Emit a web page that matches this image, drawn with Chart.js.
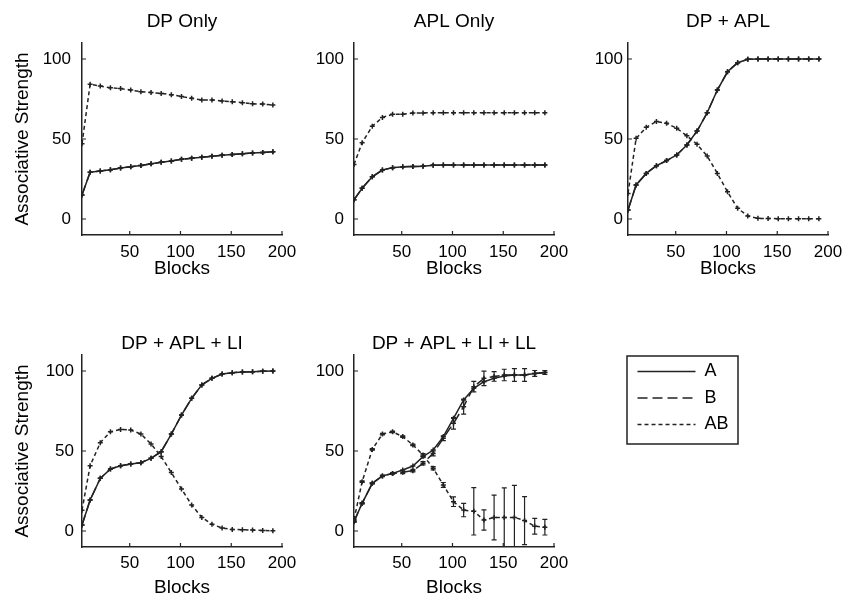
<!DOCTYPE html>
<html>
<head>
<meta charset="utf-8">
<script src="https://cdn.jsdelivr.net/npm/chart.js@4.4.1/dist/chart.umd.min.js"></script>
<style>
  body { margin: 0; background: #fff; width: 847px; height: 601px; position: relative; overflow: hidden; }
  canvas { position: absolute; }
</style>
</head>
<body>
<canvas id="p1"></canvas>
<canvas id="p2"></canvas>
<canvas id="p3"></canvas>
<canvas id="p4"></canvas>
<canvas id="p5"></canvas>
<canvas id="legend"></canvas>
<script>
// block numbers and tick labels
const blocks = [3, 11, 21, 31, 41, 51, 61, 71, 81, 91, 101, 111, 121, 131, 141, 151, 161, 171, 181, 191];
const xTicks = [50, 100, 150, 200];
const yTicks = [0, 50, 100];
const seriesNames = ['A', 'B', 'AB'];

// DP Only
const dpOnlyA = [15, 29.2, 30, 30.8, 31.9, 32.7, 33.5, 34.5, 35.4, 36.2, 37.3, 38, 38.6, 39.2, 39.8, 40.3, 40.8, 41.2, 41.6, 42];
const dpOnlyAB = [47, 84.2, 83.1, 82, 81.5, 80.6, 79.6, 79, 78.5, 77.7, 76.5, 75.4, 74.4, 74.4, 73.8, 73.3, 72.7, 72, 71.8, 71.3];

// APL Only
const aplOnlyA = [12, 19.2, 26.4, 30.6, 32.1, 32.7, 32.8, 32.9, 33.6, 33.7, 33.7, 33.7, 33.7, 33.7, 33.7, 33.7, 33.7, 33.7, 33.7, 33.7];
const aplOnlyAB = [34, 47.7, 58, 63.5, 65.4, 65.5, 66.2, 66.3, 66.4, 66.4, 66.4, 66.4, 66.4, 66.4, 66.4, 66.4, 66.4, 66.4, 66.4, 66.4];

// DP + APL
const dpAplA = [5.6, 21.3, 28.5, 33.3, 36.5, 40, 46.3, 55, 66.4, 80.6, 92, 97.7, 99.8, 100, 100, 100, 100, 100, 100, 100];
const dpAplAB = [16, 50.4, 57.3, 61, 59.8, 56.7, 52, 46.7, 39.4, 28.5, 17, 6.7, 1.9, 0.4, 0.3, 0.2, 0.2, 0.2, 0.2, 0.2];

// DP + APL + LI
const liA = [3.8, 19.4, 32.9, 38.8, 40.8, 41.9, 42.7, 45.4, 49.6, 60.6, 72.5, 82.9, 91.3, 95.4, 98.1, 98.9, 99.4, 99.6, 99.8, 100];
const liAB = [13, 40.8, 55.2, 62, 63.5, 63.1, 60.6, 54.4, 46.5, 36.5, 26.3, 16.3, 8.5, 4.2, 1.9, 1, 0.8, 0.6, 0.3, 0.2];

// DP + APL + LI + LL (with error bars)
const llA = [5.8, 17.3, 29.8, 34.4, 36, 38.1, 40.6, 46.5, 50.6, 59, 70.4, 81.9, 89.2, 93.3, 95.4, 96.9, 97.5, 97.5, 98.5, 99];
const llB = [5.8, 17.3, 29.8, 34.4, 36, 36.7, 37.7, 42.3, 48.5, 58, 67.3, 77.7, 90.2, 95.4, 96.6, 97.5, 97.5, 97.5, 98.5, 99];
const llAB = [7, 30.8, 51, 60.6, 62, 59, 53.8, 47.5, 39.2, 28.8, 18.3, 13.1, 12.3, 6.9, 8.4, 8.5, 8.5, 6.5, 3, 2.4];
const llBErr = [0.3, 0.5, 0.5, 0.5, 0.5, 0.8, 0.8, 1, 1.5, 1.5, 3.6, 4.7, 3.3, 4.5, 3, 3.6, 4, 4, 1.8, 1.2];
const llABErr = [0.5, 0.5, 0.5, 0.5, 0.5, 0.5, 0.5, 0.8, 1, 1.5, 3, 4.2, 14.8, 6.3, 14, 18.5, 20, 15, 4.9, 4.9];

const ink = '#222';
const dashes = [[], [10, 5], [4, 3]];

Chart.defaults.font.family = "'Liberation Sans', Arial, Helvetica, sans-serif";
Chart.defaults.color = '#000';

const rows = [
  { top: 0, height: 290, titleTop: 10.3, tickPad: 6.8, xTitleBottom: 9.4 },
  { top: 312, height: 289, titleTop: 20.2, tickPad: 6, xTitleBottom: 2 }
];

const panels = [
  { id: 'p1', left: 0, row: rows[0], title: 'DP Only', yLabel: true, yPad: 11, a: dpOnlyA, b: dpOnlyA, ab: dpOnlyAB },
  { id: 'p2', left: 272, row: rows[0], title: 'APL Only', yLabel: false, yPad: 10, a: aplOnlyA, b: aplOnlyA, ab: aplOnlyAB },
  { id: 'p3', left: 546, row: rows[0], title: 'DP + APL', yLabel: false, yPad: 5, a: dpAplA, b: dpAplA, ab: dpAplAB },
  { id: 'p4', left: 0, row: rows[1], title: 'DP + APL + LI', yLabel: true, yPad: 8, a: liA, b: liA, ab: liAB },
  { id: 'p5', left: 272, row: rows[1], title: 'DP + APL + LI + LL', yLabel: false, yPad: 10, a: llA, b: llB, ab: llAB, bErr: llBErr, abErr: llABErr }
];

// matlab style ticks pointing into the plot
const innerTicks = {
  id: 'innerTicks',
  afterDraw(chart) {
    const { ctx, chartArea: a, scales: { x, y } } = chart;
    ctx.save();
    ctx.strokeStyle = ink;
    ctx.lineWidth = 1.2;
    ctx.beginPath();
    x.ticks.forEach(t => {
      const px = x.getPixelForValue(t.value);
      ctx.moveTo(px, a.bottom);
      ctx.lineTo(px, a.bottom - 4);
    });
    y.ticks.forEach(t => {
      const py = y.getPixelForValue(t.value);
      ctx.moveTo(a.left, py);
      ctx.lineTo(a.left + 4, py);
    });
    ctx.stroke();
    ctx.restore();
  }
};

const errorBars = {
  id: 'errorBars',
  afterDatasetsDraw(chart) {
    const { ctx, chartArea: a, scales: { x, y } } = chart;
    ctx.save();
    ctx.beginPath();
    ctx.rect(a.left, a.top - 1, a.right - a.left, a.bottom - a.top + 1);
    ctx.clip();
    chart.data.datasets.forEach(ds => {
      if (!ds.errors) return;
      ctx.strokeStyle = ink;
      ctx.lineWidth = 1.2;
      ctx.setLineDash([]);
      ctx.beginPath();
      ds.data.forEach((pt, i) => {
        const e = ds.errors[i];
        const px = x.getPixelForValue(pt.x);
        const lo = y.getPixelForValue(pt.y - e);
        const hi = y.getPixelForValue(pt.y + e);
        ctx.moveTo(px, lo); ctx.lineTo(px, hi);
        ctx.moveTo(px - 2.5, lo); ctx.lineTo(px + 2.5, lo);
        ctx.moveTo(px - 2.5, hi); ctx.lineTo(px + 2.5, hi);
      });
      ctx.stroke();
    });
    ctx.restore();
  }
};

function series(i, values, errors) {
  return {
    label: seriesNames[i],
    data: values.map((v, k) => ({ x: blocks[k], y: v })),
    errors: errors || null,
    borderColor: ink,
    borderWidth: 1.5,
    borderDash: dashes[i],
    tension: 0,
    pointStyle: 'cross',
    pointRadius: 2.5,
    pointBorderWidth: 1.5,
    pointBorderColor: ink,
    fill: false
  };
}

function makePanel(p) {
  const canvas = document.getElementById(p.id);
  canvas.width = 306;
  canvas.height = p.row.height;
  canvas.style.left = p.left + 'px';
  canvas.style.top = p.row.top + 'px';

  new Chart(canvas, {
    type: 'line',
    data: {
      datasets: [series(0, p.a), series(1, p.b, p.bErr), series(2, p.ab, p.abErr)]
    },
    options: {
      responsive: false,
      animation: false,
      events: [],
      layout: { padding: { left: 0, right: 24, top: 0, bottom: 0 } },
      plugins: {
        legend: { display: false },
        tooltip: { enabled: false },
        title: {
          display: true,
          text: p.title,
          fullSize: false,
          color: '#000',
          font: { size: 19, weight: 'normal' },
          padding: { top: p.row.titleTop, bottom: Math.max(0, 43 - 22.8 - p.row.titleTop) }
        }
      },
      scales: {
        x: {
          type: 'linear',
          min: 3,
          max: 200,
          afterBuildTicks: s => { s.ticks = xTicks.map(v => ({ value: v })); },
          afterFit: s => { s.height = p.row.height - 43 - 192; },
          grid: { display: false, drawTicks: false },
          border: { display: true, color: ink, width: 1.5 },
          ticks: { font: { size: 17 }, color: '#000', padding: p.row.tickPad, maxRotation: 0 },
          title: { display: true, text: 'Blocks', color: '#000', font: { size: 19 }, padding: { top: 0, bottom: p.row.xTitleBottom } }
        },
        y: {
          min: -10,
          max: 110,
          afterBuildTicks: s => { s.ticks = yTicks.map(v => ({ value: v })); },
          afterFit: s => { s.width = 82; },
          grid: { display: false, drawTicks: false },
          border: { display: true, color: ink, width: 1.5 },
          ticks: { font: { size: 17 }, color: '#000', padding: p.yPad },
          title: { display: p.yLabel, text: 'Associative Strength', color: '#000', font: { size: 19 }, padding: { top: 11, bottom: 0 } }
        }
      }
    },
    plugins: [innerTicks, errorBars]
  });
}

panels.forEach(makePanel);

// legend in the empty sixth slot
const legendFrame = {
  id: 'legendFrame',
  afterDraw(chart) {
    const ctx = chart.ctx;
    ctx.save();
    ctx.strokeStyle = ink;
    ctx.lineWidth = 1.5;
    ctx.strokeRect(1, 2, 111, 88);
    ctx.restore();
  }
};

const legendCanvas = document.getElementById('legend');
legendCanvas.width = 200;
legendCanvas.height = 100;
legendCanvas.style.left = '626px';
legendCanvas.style.top = '354px';

new Chart(legendCanvas, {
  type: 'line',
  data: { datasets: seriesNames.map((n, i) => series(i, [])) },
  options: {
    responsive: false,
    animation: false,
    events: [],
    layout: { padding: { left: 3, top: 0, right: 0, bottom: 0 } },
    scales: { x: { display: false }, y: { display: false } },
    plugins: {
      tooltip: { enabled: false },
      legend: {
        position: 'left',
        align: 'start',
        maxWidth: 200,
        labels: {
          usePointStyle: true,
          pointStyleWidth: 58,
          padding: 8.5,
          font: { size: 18 },
          color: '#000',
          generateLabels: () => seriesNames.map((n, i) => ({
            text: n,
            strokeStyle: ink,
            fillStyle: 'rgba(0,0,0,0)',
            fontColor: '#000',
            lineWidth: 1.5,
            lineDash: dashes[i],
            pointStyle: 'line',
            hidden: false,
            datasetIndex: i
          }))
        }
      }
    }
  },
  plugins: [legendFrame]
});
</script>
</body>
</html>
